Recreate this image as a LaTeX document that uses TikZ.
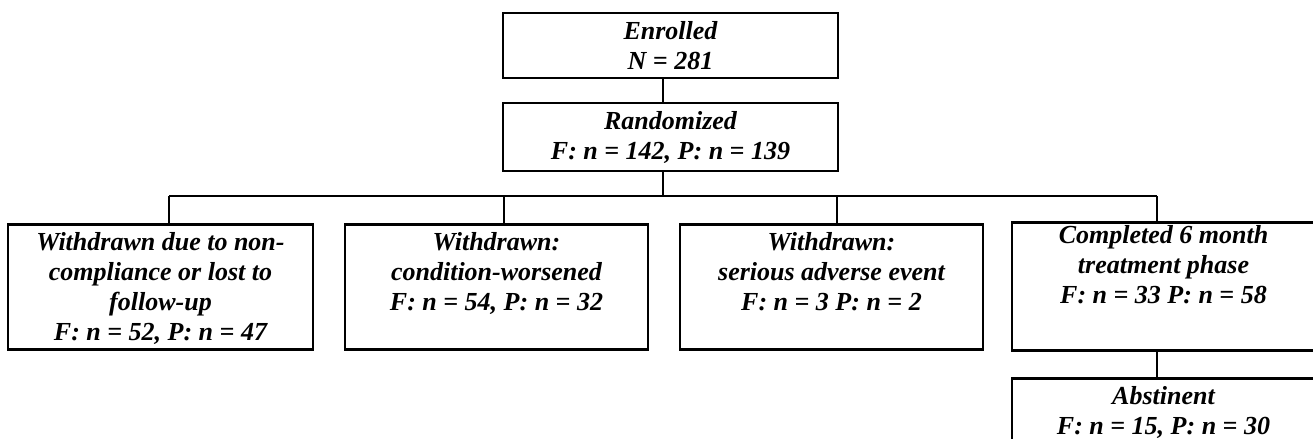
\documentclass[tikz,border=0pt]{standalone}
\usepackage{fontspec}
\setmainfont{Liberation Serif}
\usepackage{tikz}

\newcommand\toptext[2][54.5pt]{\parbox[c][#1][t]{148pt}{\centering
  \fontsize{13}{15}\selectfont\bfseries\itshape #2}}

\begin{document}
\begin{tikzpicture}[x=1pt,y=1pt,line width=1.3pt,
  box/.style={draw,inner xsep=0pt,inner ysep=4pt,align=center,
    minimum width=151.5pt,font=\fontsize{13}{15}\selectfont\bfseries\itshape}]
\useasboundingbox (0,0) rectangle (656.5,-219.5);
\clip (0,0) rectangle (656.5,-219.5);
\node[box,minimum width=167.5pt,minimum height=32.5pt] (enr) at (335.25,-22.75)
  {Enrolled\\N = 281};
\node[box,minimum width=167.5pt,minimum height=32pt] (rand) at (335.25,-68.5)
  {Randomized\\F: n = 142, P: n = 139};
\node[box,anchor=north,minimum width=152.5pt] (wd1) at (80.25,-111.5)
  {\toptext{Withdrawn due to non-\\compliance or lost to\\follow-up\\F: n = 52, P: n = 47}};
\node[box,anchor=north] (wd2) at (248.25,-111.5)
  {\toptext{Withdrawn:\\condition-worsened\\F: n = 54, P: n = 32}};
\node[box,anchor=north] (wd3) at (415.75,-111.5)
  {\toptext{Withdrawn:\\serious adverse event\\F: n = 3 P: n = 2}};
\node[box,anchor=north,inner ysep=1.5pt] (done) at (581.75,-110.5)
  {\toptext[61pt]{Completed 6 month\\treatment phase\\F: n = 33 P: n = 58}};
\node[box,anchor=north,minimum height=32pt] (abst) at (581.75,-188.5)
  {Abstinent\\F: n = 15, P: n = 30};
\coordinate (br) at (331.5,-98);
\coordinate (b1) at (84.5,-98);
\coordinate (b2) at (252,-98);
\coordinate (b3) at (418.5,-98);
\coordinate (b4) at (578.5,-98);
\draw (enr.south -| br) -- (rand.north -| br);
\draw (rand.south -| br) -- (br);
\draw (b1) -- (b4);
\draw (b1) -- (b1 |- wd1.north);
\draw (b2) -- (b2 |- wd2.north);
\draw (b3) -- (b3 |- wd3.north);
\draw (b4) -- (b4 |- done.north);
\draw (done.south -| b4) -- (abst.north -| b4);
\end{tikzpicture}
\end{document}
